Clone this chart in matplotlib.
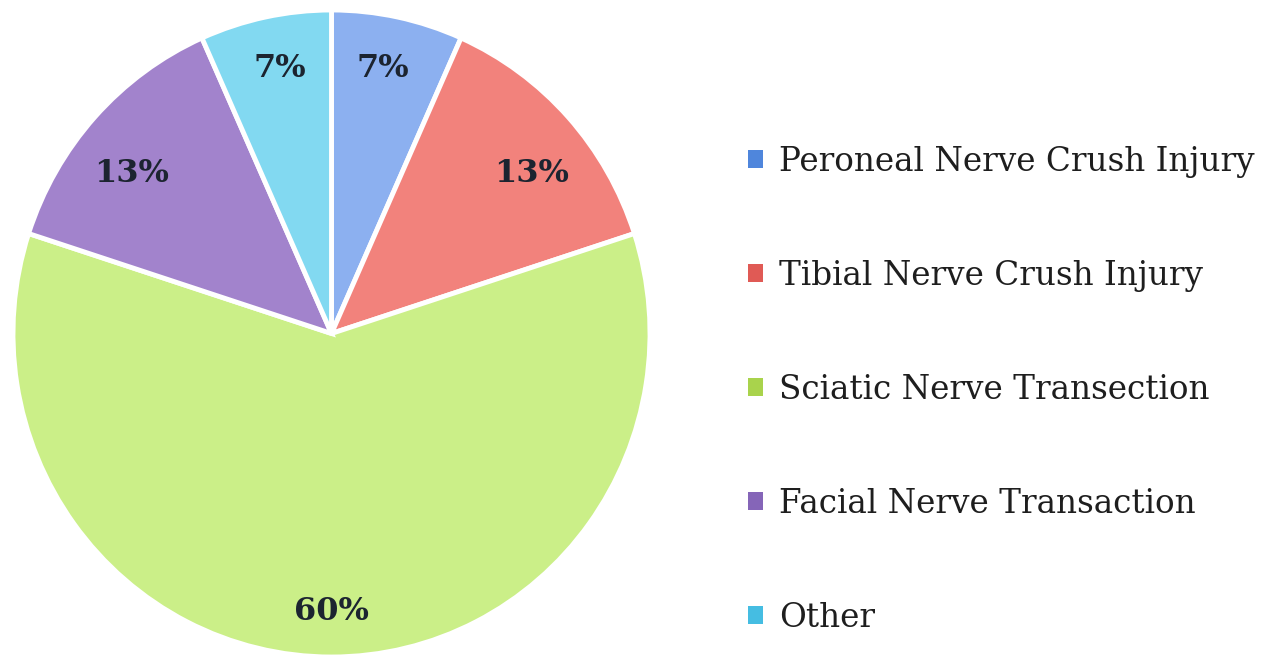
import numpy as np
import matplotlib
matplotlib.use("Agg")
import matplotlib.pyplot as plt
from matplotlib.patches import Patch

# Injury models (counts out of 15 studies)
categories = ["Peroneal Nerve Crush Injury", "Tibial Nerve Crush Injury",
              "Sciatic Nerve Transection", "Facial Nerve Transaction", "Other"]
counts = [1, 2, 9, 2, 1]

wedge_colors = ["#8cb0f0", "#f2827c", "#cbef88", "#a283cc", "#82d9f1"]
legend_colors = ["#4f86dc", "#e05a55", "#a9d34c", "#8565b8", "#45bde2"]

# label placement (radius, angular nudge in degrees) per wedge
label_r = [0.835, 0.80, 0.86, 0.80, 0.835]
label_dtheta = [0.8, -3.8, 0.0, 3.8, -0.8]

fig = plt.figure(figsize=(12.72, 6.63), dpi=100)
W, H = 1272, 663
ax = fig.add_axes([13 / W, 6 / H, 637 / W, 647 / H])

wedges, texts, autotexts = ax.pie(
    counts,
    colors=wedge_colors,
    startangle=90,
    counterclock=False,
    autopct="%1.0f%%",
    pctdistance=0.83,
    wedgeprops=dict(edgecolor="white", linewidth=3.5),
    textprops=dict(family="DejaVu Serif", fontweight="bold", fontsize=23,
                   color="#1c2430"),
)
for w, t, r, dt in zip(wedges, autotexts, label_r, label_dtheta):
    mid = np.deg2rad((w.theta1 + w.theta2) / 2 + dt)
    t.set_position((r * np.cos(mid), r * np.sin(mid)))

ax.set_aspect("auto")
ax.set_xlim(-1, 1)
ax.set_ylim(-1, 1)

fs = 23.5
handles = [Patch(facecolor=c, edgecolor="none") for c in legend_colors]
fig.legend(
    handles, categories,
    loc="upper left", bbox_to_anchor=(735 / W, 1 - 133 / H),
    borderaxespad=0,
    frameon=False,
    prop=dict(family="DejaVu Serif", size=fs),
    labelcolor="#1e1e1e",
    handlelength=0.47, handleheight=0.47, handletextpad=0.48,
    labelspacing=2.51,
)

fig.savefig("out.png", dpi=100)
